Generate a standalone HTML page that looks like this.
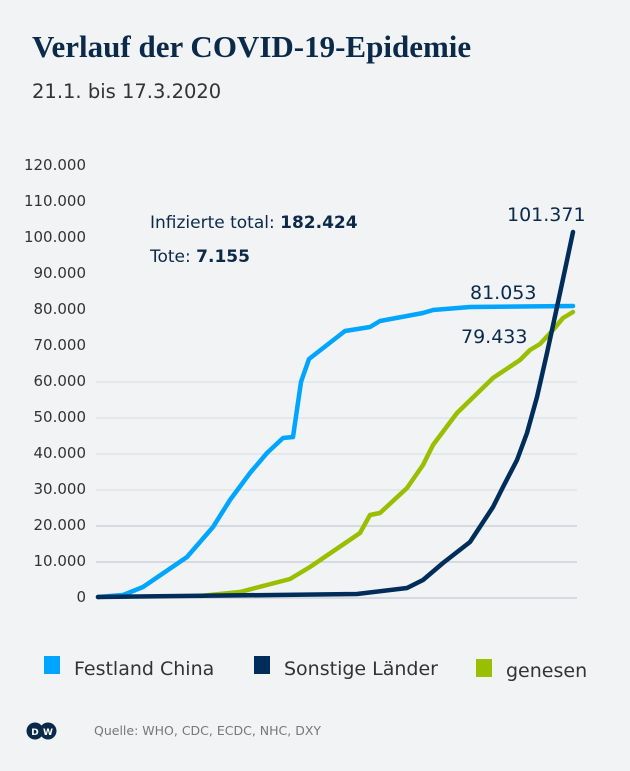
<!DOCTYPE html>
<html><head><meta charset="utf-8"><style>
body{margin:0;width:630px;height:767px;background:#f1f3f5;font-family:"DejaVu Sans","Liberation Sans",sans-serif;overflow:hidden}
</style></head><body>
<svg width="630" height="767" xmlns="http://www.w3.org/2000/svg">
<rect width="630" height="767" fill="#f1f3f5"/>
<text x="32" y="57" font-family="Liberation Serif,serif" font-weight="bold" font-size="31" fill="#0b2a4a">Verlauf der COVID-19-Epidemie</text>
<text x="32" y="98" font-size="19.5" fill="#333">21.1. bis 17.3.2020</text>
<g stroke="#c5cad1" stroke-width="1.2">
<line x1="96" x2="577" y1="598" y2="598"/><line x1="96" x2="577" y1="562" y2="562"/><line x1="96" x2="577" y1="526" y2="526"/><line x1="96" x2="577" y1="490" y2="490" stroke="#dde1e5"/><line x1="96" x2="577" y1="454" y2="454" stroke="#dde1e5"/><line x1="96" x2="577" y1="418" y2="418" stroke="#dde1e5"/><line x1="96" x2="577" y1="382" y2="382" stroke="#dde1e5"/>
</g>
<g font-size="15" fill="#333" text-anchor="end">
<text x="86" y="170">120.000</text><text x="86" y="206">110.000</text><text x="86" y="242">100.000</text><text x="86" y="278">90.000</text><text x="86" y="314">80.000</text><text x="86" y="350">70.000</text><text x="86" y="386">60.000</text><text x="86" y="422">50.000</text><text x="86" y="458">40.000</text><text x="86" y="494">30.000</text><text x="86" y="530">20.000</text><text x="86" y="566">10.000</text><text x="86" y="602">0</text>
</g>
<g fill="none" stroke-width="4.5" stroke-linejoin="round" stroke-linecap="round">
<polyline stroke="#9abe00" points="200,596 240,592 290,579 310,567 360,533 370,515 380,513 407,488 423,465 433,445 457,413 493,378 520,360 530,350 540,344 553,330 563,318 573,312"/>
<polyline stroke="#00a5ff" points="98,597 123,595 143,587 187,557 213,527 230,500 250,473 267,453 283,438 293,437 301,382 309,359 327,345 345,331 370,327 380,321 423,313 433,310 470,307 573,306"/>
<polyline stroke="#002d5a" points="98,597 357,594 407,588 423,580 443,563 470,542 493,507 503,487 517,460 527,433 537,397 547,353 557,307 566,265 573,232"/>
</g>
<text x="150" y="228" font-size="17" fill="#0b2a4a">Infizierte total: <tspan font-weight="bold">182.424</tspan></text>
<text x="150" y="262" font-size="17" fill="#0b2a4a">Tote: <tspan font-weight="bold">7.155</tspan></text>
<text x="507" y="221" font-size="19" fill="#0b2a4a">101.371</text>
<text x="470" y="299" font-size="19" fill="#0b2a4a">81.053</text>
<text x="461" y="343" font-size="19" fill="#0b2a4a">79.433</text>
<rect x="44" y="656" width="16" height="18" fill="#00a5ff"/>
<text x="74" y="675" font-size="19" fill="#333">Festland China</text>
<rect x="254" y="656" width="16" height="18" fill="#002d5a"/>
<text x="284" y="675" font-size="19" fill="#333">Sonstige Länder</text>
<rect x="476" y="659" width="16" height="18" fill="#9abe00"/>
<text x="506" y="677" font-size="19" fill="#333">genesen</text>
<circle cx="35" cy="731" r="8.5" fill="#0b2a4a"/><circle cx="48" cy="731" r="8.5" fill="#0b2a4a"/>
<text x="35" y="735" font-size="9" font-weight="bold" fill="#fff" text-anchor="middle">D</text>
<text x="48" y="735" font-size="9" font-weight="bold" fill="#fff" text-anchor="middle">W</text>
<text x="94" y="735" font-size="12.5" fill="#777">Quelle: WHO, CDC, ECDC, NHC, DXY</text>
</svg>
</body></html>
